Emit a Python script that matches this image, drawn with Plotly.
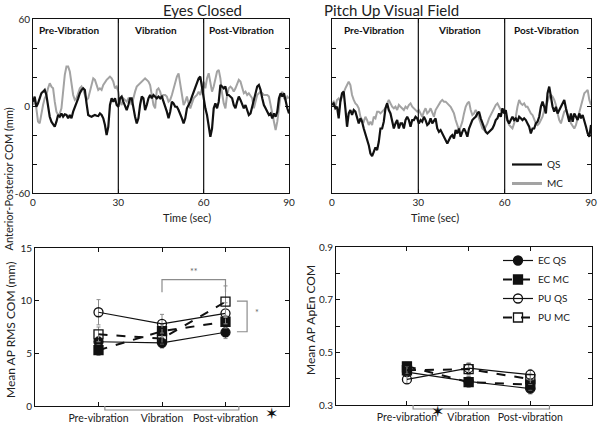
import numpy as np
import plotly.graph_objects as go

# ---------------- time series (mm), uniform sampling over 0-90 s ----------------
ec_qs = [3.0, 6.5, -0.5, 1.8, 5.3, 8.8, 9.9, 11.1, 7.6, -1.6, -7.4, -10.8, -13.1, -14.3, -10.8, -6.2, -7.4,
         -5.1, -7.4, -5.8, -6.2, -8.5, -6.2, -8.5, -3.9, -1.2, 1.8, 5.3, 8.8, 11.1, 12.2, 11.1, 1.8, -6.2,
         -6.9, -7.4, -6.7, -6.2, -6.7, -6.9, -5.1, -6.2, -8.5, -13.1, -20.1, -14.3, 0.7, 5.3, 3.0,
         5.3, 0.7, -0.5, 5.3, 6.5, 3.0, -0.5, -2.8, 0.7, 5.3, 5.3, -1.6, -7.4, -12.0, -8.5, 0.7, 6.5,
         5.3, -2.8, 0.7, 5.3, 7.6, 5.3, 7.6, 6.5, 5.3, 6.5, 5.3, 6.5, 3.0, 0.7, -3.9, -8.5, -3.9, 3.0,
         1.8, -0.5, -0.5, -2.8, -5.1, -8.5, -12.0, -8.5, -1.6, 0.7, 3.0, 6.5, 9.9, 12.2, 15.7, 19.1,
         20.3, 12.2, 3.0, -1.6, -6.2, -14.3, -21.2, -15.5, -1.6, 1.8, -1.6, 3.0, 14.5, 13.4, 12.2, 13.4,
         7.6, 7.6, 6.5, 5.3, 0.7, -1.6, 3.0, 6.5, 4.2, 0.7, -1.6, 0.7, -2.8, -6.2, -5.1, -0.5, 5.3, 9.9,
         13.4, 14.5, 11.1, 5.3, 0.7, -1.6, -3.9, -6.2, -5.1, -8.5, -5.1, -7.4, -3.9, 5.3, 8.8, 6.5, 8.8,
         3.0, -1.6, -5.1]
ec_mc = [0.7, 4.2, -1.6, -10.8, -12.0, -5.1, 0.7, 5.3, 7.6, 12.2, 15.7, 13.4, 12.2, 3.0, -3.9, -6.2, -5.1,
         -1.6, 9.9, 21.5, 27.2, 27.2, 23.8, 16.8, 7.6, 4.2, 5.3, 8.8, 12.2, 13.4, 11.1, 7.6, 4.2, 5.3,
         9.9, 14.5, 19.1, 18.0, 14.5, 11.1, 12.2, 11.1, 14.5, 16.8, 18.0, 19.1, 20.3, 19.1, 16.8,
         12.2, 13.4, 9.9, 3.0, 0.7, 5.3, 4.2, 3.0, 5.3, 4.2, 0.7, 6.5, 9.9, 13.4, 14.5, 15.7, 16.8, 18.0,
         19.1, 18.0, 16.8, 14.5, 7.6, 0.7, -1.6, 11.1, 12.2, 9.9, 5.3, 7.6, 7.6, 6.5, 3.0, 4.2, 7.6,
         12.2, 15.7, 20.3, 22.5, 14.5, 5.3, 0.7, 3.0, 6.5, 1.8, -1.6, 1.8, 5.3, 6.5, 7.6, 9.9,
         7.6, 12.2, 16.8, 12.2, 19.1, 22.6, 16.8, 9.9, 13.4, 19.1, 23.8, 24.9, 19.1, 8.8, 1.8, -1.6,
         7.6, 12.2, 13.4, 12.2, 9.9, 12.2, 15.7, 18.0, 16.8, 12.2, 8.8, 9.9, 7.6, 8.8, 6.5, 5.3, -1.6,
         3.0, 7.6, 8.8, 9.9, 8.8, 7.6, 7.6, 7.6, 6.5, 0.7, -5.1, -10.8, -16.6, -10.8, -1.6, 7.6, 9.9,
         5.3, 4.2, 6.5, 5.3]
pu_qs = [0.7, 1.8, -1.6, -0.5, -8.5, 3.0, 8.8, 9.9, -1.6, -14.3, -5.1, -2.8, -6.2, -2.8, -3.9, -7.4, -12.0,
         -8.5, -10.8, -15.5, -18.9, -22.4, -27.0, -32.8, -34.6, -31.6, -28.6, -30.4, -24.7, -15.5, -15.5,
         -10.8, -1.6, 1.8, -2.8, -5.1, -9.7, -15.5, -12.0, -9.7, -15.5, -12.0, -12.0, -15.5, -9.7, -7.4,
         -9.7, -14.3, -9.7, -9.7, -7.4,
         -8.5, -12.0, -9.7, -10.8, -7.4, -9.7, -13.1, -12.0, -8.5, -12.0, -9.7, -8.5, -15.5, -17.8,
         -16.6, -18.9, -21.2, -23.5, -25.8, -23.5, -21.2, -20.1, -22.4, -16.6, -18.9, -15.5, -21.2,
         -17.8, -15.5, -17.8, -21.2, -15.5, -12.0, -9.7, -8.5, -7.4, -5.1, -3.9, -8.5, -12.0, -15.5,
         -17.8, -18.9, -17.8, -16.6, -15.5, -13.1, -9.7, -8.5, -5.1, -7.4,
         -1.6, -5.1, -2.8, -9.7, -12.0, -9.7, -7.4, -9.7, -8.5, -10.8, -7.4, -8.5, -9.7, -8.5, -9.7,
         -12.0, -14.3, -18.9, -15.5, -15.5, -12.0, -10.8, -7.4, -0.5, 3.0, -0.5, -5.1, 8.8, 13.4, 6.5,
         -0.5, -3.9, -0.5, -5.1, -2.8, -0.5, 1.8, 4.2, -1.6, -7.4, -10.8, -5.1, -10.8, -5.1, -7.4, -9.7,
         -5.1, -8.5, -6.2, -9.7, -14.3, -18.9, -21.2, -13.1]
pu_mc = [1.8, 3.0, -0.5, 4.2, 5.3, 3.0, 6.5, 9.9, 12.2, 14.5, 16.8, 14.5, 7.6, 4.2, 1.8, 0.7, -1.6, -7.4,
         -9.7, -10.8, -7.4, -9.7, -13.1, -10.8, -13.1, -7.4, -8.5, -3.9, -3.9, -5.1, -3.9, -2.8, -1.6,
         1.8, 4.2, 1.8, -0.5, -1.6, -0.5, -2.8, 0.7, -0.5, -1.6, -2.8, -0.5, -1.6, 0.7, 1.8, -0.5, -1.6,
         -2.8,
         -3.9, -2.8, -5.1, -7.4, -3.9, -1.6, -5.1, -3.9, -1.6, -5.1, -7.4, -2.8, -0.5, 1.8, 3.0, 4.2,
         3.0, 3.0, 1.8, 0.7, -0.5, -2.8, -5.1, -9.7, -13.1, -16.6, -14.3, -10.8, -5.1, -0.5, 1.8, 3.0,
         -2.8, -6.2, -5.1, -2.8, -5.1, -8.5, -12.0, -15.5, -16.6, -14.3, -12.0, -8.5, -6.2, -2.8, -1.6,
         0.7, 1.8, -0.5, -2.8,
         -3.9, -2.8, -7.4, -10.8, -13.1, -14.3, -15.5, -12.0, -7.4, -0.5, 4.2, 1.8, 0.7, 1.8, -0.5,
         -0.5, -2.8, -5.1, -6.2, -9.7, -12.0, -13.1, -12.0, -9.7, -7.4, -2.8, -0.5, 3.0, 6.5, 7.6, 6.5,
         4.2, 0.7, -5.1, -9.7, -12.0, -7.4, -3.9, -2.8, -5.1, -8.5, -12.0, -14.3, -15.5, -13.1, -8.5,
         -5.1, -0.5, 4.2, 8.8, 9.9, 11.1, 4.2, 0.7]
ec_t = np.linspace(0, 90, len(ec_qs))
pu_t = np.linspace(0, 90, len(pu_qs))

time_ticks = [0, 30, 60, 90]
com_ticks = [-60, -40, -20, 0, 20, 40, 60]
com_ticktext = ["-60", "", "", "0", "", "", "60"]
phase_names = ["Pre-Vibration", "Vibration", "Post-Vibration"]
phase_starts_ec = [1.4, 34.8, 61.2]
phase_starts_pu = [3.4, 36.1, 62.5]

# ---------------- summary data ----------------
conditions = ["Pre-vibration", "Vibration", "Post-vibration"]
cond_pos = [1, 2, 3]
rms_ec_qs = [6.1, 6.0, 7.0]
rms_ec_mc = [5.3, 7.1, 8.0]
rms_pu_qs = [8.9, 7.8, 8.8]
rms_pu_mc = [6.8, 6.4, 9.9]
rms_err_ec_qs = [0.5, 0.5, 0.6]
rms_err_ec_mc = [0.5, 0.6, 0.6]
rms_err_pu_qs = [1.2, 0.9, 1.0]
rms_err_pu_mc = [0.7, 0.5, 1.5]

apen_ec_qs = [0.425, 0.390, 0.362]
apen_ec_mc = [0.447, 0.387, 0.377]
apen_pu_qs = [0.397, 0.440, 0.415]
apen_pu_mc = [0.432, 0.436, 0.398]
apen_err = [0.015, 0.02, 0.02]

FONT = "Lato, 'Open Sans', sans-serif"
BLACK = "#111111"
GREY = "#a3a3a3"

fig = go.Figure()

# top plots
fig.add_trace(go.Scatter(x=ec_t, y=ec_mc, mode="lines", line=dict(color=GREY, width=2),
                         showlegend=False, xaxis="x", yaxis="y"))
fig.add_trace(go.Scatter(x=ec_t, y=ec_qs, mode="lines", line=dict(color=BLACK, width=2.2),
                         showlegend=False, xaxis="x", yaxis="y"))
fig.add_trace(go.Scatter(x=pu_t, y=pu_mc, mode="lines", line=dict(color=GREY, width=2),
                         showlegend=False, xaxis="x2", yaxis="y2"))
fig.add_trace(go.Scatter(x=pu_t, y=pu_qs, mode="lines", line=dict(color=BLACK, width=2.2),
                         name="QS", legend="legend", xaxis="x2", yaxis="y2"))
fig.add_trace(go.Scatter(x=[None], y=[None], mode="lines", line=dict(color=GREY, width=3),
                         name="MC", legend="legend", xaxis="x2", yaxis="y2"))


def summary(xa, ya, vals, errs, name, symbol, dash, lw, show, legend=None):
    fig.add_trace(go.Scatter(
        x=cond_pos, y=vals, mode="lines+markers", name=name,
        line=dict(color=BLACK, width=lw, dash=dash),
        marker=dict(symbol=symbol, size=9, color=BLACK, line=dict(color=BLACK, width=1.3)),
        error_y=dict(type="data", array=errs, color="#8c8c8c", thickness=1, width=2),
        showlegend=show, legend=legend, xaxis=xa, yaxis=ya))


summary("x3", "y3", rms_ec_qs, rms_err_ec_qs, "EC QS", "circle", "solid", 1.2, False)
summary("x3", "y3", rms_ec_mc, rms_err_ec_mc, "EC MC", "square", "dash", 2, False)
summary("x3", "y3", rms_pu_qs, rms_err_pu_qs, "PU QS", "circle-open", "solid", 1.2, False)
summary("x3", "y3", rms_pu_mc, rms_err_pu_mc, "PU MC", "square-open", "dash", 2, False)

summary("x4", "y4", apen_ec_qs, apen_err, "EC QS", "circle", "solid", 1.2, True, "legend2")
summary("x4", "y4", apen_ec_mc, apen_err, "EC MC", "square", "dash", 2, True, "legend2")
summary("x4", "y4", apen_pu_qs, apen_err, "PU QS", "circle-open", "solid", 1.2, True, "legend2")
summary("x4", "y4", apen_pu_mc, apen_err, "PU MC", "square-open", "dash", 2, True, "legend2")

axis_common = dict(showline=True, linecolor=BLACK, linewidth=1, mirror="ticks", ticks="inside",
                   tickcolor=BLACK, ticklen=4, showgrid=False, zeroline=False, automargin=False,
                   tickfont=dict(family=FONT, size=10, color="#222"))
cat_axis = {**axis_common, "tickfont": dict(family=FONT, size=10.5, color="#222"), "ticklabelstandoff": 2}

top_y = [1 - 193 / 424, 1 - 19 / 424]
fig.update_layout(
    template="none",
    xaxis=dict(domain=[33 / 600, 289 / 600], range=[0, 90], tickvals=time_ticks, anchor="y", **axis_common),
    yaxis=dict(domain=top_y, range=[-60, 60], tickvals=com_ticks, ticktext=com_ticktext, anchor="x",
               **axis_common),
    xaxis2=dict(domain=[332 / 600, 591 / 600], range=[0, 90], tickvals=time_ticks, anchor="y2", **axis_common),
    yaxis2=dict(domain=top_y, range=[-60, 60], tickvals=com_ticks, showticklabels=False, anchor="x2",
                **axis_common),
    xaxis3=dict(domain=[35 / 600, 289 / 600], range=[0, 4], tickvals=cond_pos, ticktext=conditions,
                anchor="y3", **cat_axis),
    yaxis3=dict(domain=[1 - 406 / 424, 1 - 248 / 424], range=[0, 15], tickvals=[0, 5, 10, 15], anchor="x3",
                **axis_common),
    xaxis4=dict(domain=[336 / 600, 592 / 600], range=[-0.15, 4.0], tickvals=cond_pos, ticktext=conditions,
                anchor="y4", **cat_axis),
    yaxis4=dict(domain=[1 - 405 / 424, 1 - 247 / 424], range=[0.3, 0.9],
                tickvals=[0.3, 0.4, 0.5, 0.6, 0.7, 0.8, 0.9],
                ticktext=["0.3", "", "0.5", "", "0.7", "", "0.9"], anchor="x4", **axis_common),
    legend=dict(x=0.845, y=1 - 150 / 424, xanchor="left", yanchor="top", bgcolor="rgba(0,0,0,0)",
                font=dict(family=FONT, size=10, color="#222"), tracegroupgap=0),
    legend2=dict(x=0.83, y=1 - 246 / 424, xanchor="left", yanchor="top", bgcolor="rgba(0,0,0,0)",
                 font=dict(family=FONT, size=10, color="#222"), tracegroupgap=0),
    width=600, height=424, margin=dict(l=0, r=0, t=0, b=0, pad=0, autoexpand=False),
    paper_bgcolor="white", plot_bgcolor="white",
)

shapes = []
for xa, ya in (("x", "y"), ("x2", "y2")):
    for xv in (30, 60):
        shapes.append(dict(type="line", xref=xa, yref=ya, x0=xv, x1=xv, y0=-60, y1=60,
                           line=dict(color=BLACK, width=1.2)))
# significance brackets (bottom-left)
BR = "#8c8c8c"
shapes.append(dict(type="path", xref="x3", yref="y3", path="M2,10.8 L2,12.0 L3,12.0 L3,10.8",
                   line=dict(color=BR, width=1.2)))
shapes.append(dict(type="path", xref="x3", yref="y3", path="M3.18,9.95 L3.34,9.95 L3.34,7.05 L3.18,7.05",
                   line=dict(color=BR, width=1.2)))
shapes.append(dict(type="path", xref="x3", yref="paper",
                   path=f"M1.1,{1 - 406 / 424} L1.1,{1 - 410 / 424} L3.21,{1 - 410 / 424} L3.21,{1 - 406 / 424}",
                   line=dict(color=BR, width=1.2)))
shapes.append(dict(type="path", xref="x4", yref="paper",
                   path=f"M1.1,{1 - 405 / 424} L1.1,{1 - 409 / 424} L3.31,{1 - 409 / 424} L3.31,{1 - 405 / 424}",
                   line=dict(color=BR, width=1.2)))
fig.update_layout(shapes=shapes)

ann = []
ann.append(dict(text="Eyes Closed", x=161 / 600, y=1 - 10 / 424, xref="paper", yref="paper",
                yanchor="middle", showarrow=False, font=dict(family=FONT, size=15, color="#222")))
ann.append(dict(text="Pitch Up Visual Field", x=461 / 600, y=1 - 10 / 424, xref="paper", yref="paper",
                yanchor="middle", showarrow=False, font=dict(family=FONT, size=15, color="#222")))
ann.append(dict(text="Anterior-Posterior COM (mm)", x=8 / 600, y=1 - 106 / 424, xref="paper", yref="paper",
                xanchor="center", textangle=-90, showarrow=False, font=dict(family=FONT, size=11, color="#222")))
for cx in (161, 461):
    ann.append(dict(text="Time (sec)", x=cx / 600, y=1 - 217 / 424, xref="paper", yref="paper",
                    yanchor="middle", showarrow=False, font=dict(family=FONT, size=11, color="#222")))
for xa, ya, starts in (("x", "y", phase_starts_ec), ("x2", "y2", phase_starts_pu)):
    for nm, st in zip(phase_names, starts):
        ann.append(dict(text=f"<b>{nm}</b>", x=st, y=52.6, xref=xa, yref=ya, xanchor="left",
                        yanchor="middle", showarrow=False, font=dict(family=FONT, size=10, color="#111")))
ann.append(dict(text="Mean AP RMS COM (mm)", x=10 / 600, y=1 - 330 / 424, xref="paper", yref="paper",
                xanchor="center", yanchor="middle", textangle=-90, showarrow=False,
                font=dict(family=FONT, size=12, color="#222")))
ann.append(dict(text="Mean AP ApEn COM", x=310 / 600, y=1 - 320 / 424, xref="paper", yref="paper",
                xanchor="center", yanchor="middle", textangle=-90, showarrow=False,
                font=dict(family=FONT, size=12, color="#222")))
ann.append(dict(text="**", x=2.5, y=12.75, xref="x3", yref="y3", showarrow=False,
                font=dict(family=FONT, size=9, color="#666")))
ann.append(dict(text="*", x=3.5, y=8.9, xref="x3", yref="y3", showarrow=False,
                font=dict(family=FONT, size=9, color="#666")))
ann.append(dict(text="\u2736", x=3.73, y=1 - 413 / 424, xref="x3", yref="paper", showarrow=False,
                yanchor="middle", font=dict(family="DejaVu Sans", size=16, color="#111")))
ann.append(dict(text="\u2736", x=1.49, y=1 - 411 / 424, xref="x4", yref="paper", showarrow=False,
                yanchor="middle", font=dict(family="DejaVu Sans", size=16, color="#111")))
fig.update_layout(annotations=ann)

fig.write_html("out.html", config={"displayModeBar": False},
               post_script="document.body.style.margin='0';document.body.style.overflow='hidden';")
